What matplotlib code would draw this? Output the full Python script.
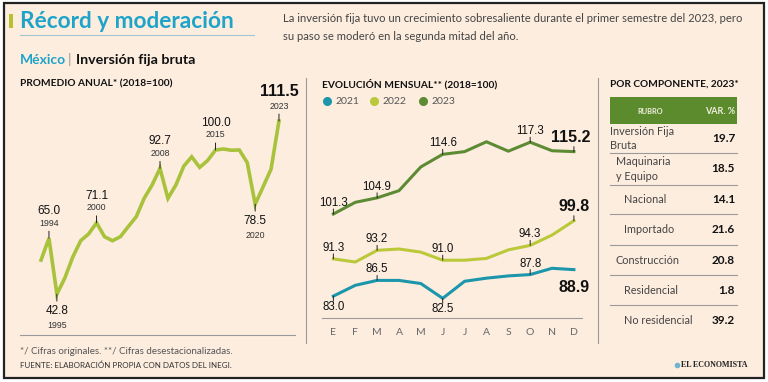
import matplotlib
matplotlib.use('Agg')
import matplotlib.pyplot as plt
from matplotlib.patches import Rectangle
from matplotlib.lines import Line2D

W, H = 768, 382

# ---------------- data ----------------
years = list(range(1993, 2024))
annual = [56.3, 65.0, 42.8, 49.2, 57.5, 64.0, 66.7, 71.1, 65.6, 64.0, 65.6, 69.6,
          73.5, 80.8, 86.1, 92.7, 80.8, 86.1, 93.6, 97.3, 93.1, 95.8, 100.0, 100.4,
          99.9, 100.0, 95.0, 78.5, 85.4, 92.4, 111.5]

months = ['E', 'F', 'M', 'A', 'M', 'J', 'J', 'A', 'S', 'O', 'N', 'D']
m2021 = [83.0, 85.4, 86.5, 86.5, 85.8, 82.5, 86.3, 87.0, 87.5, 87.8, 89.2, 88.9]
m2022 = [91.3, 90.6, 93.2, 93.5, 92.8, 91.0, 91.0, 91.4, 93.3, 94.3, 96.6, 99.8]
m2023 = [101.3, 103.9, 104.9, 106.5, 111.8, 114.6, 115.2, 117.4, 115.3, 117.3, 115.4, 115.2]
series_labels = ['2021', '2022', '2023']

rubros = ['Inversión Fija\nBruta', 'Maquinaria\ny Equipo', 'Nacional', 'Importado',
          'Construcción', 'Residencial', 'No residencial']
variaciones = [19.7, 18.5, 14.1, 21.6, 20.8, 1.8, 39.2]

# ---------------- style ----------------
BG = '#fdeddf'
TEAL = '#1ea3c9'
C_ANN = '#a9c23c'
C21 = '#1b96aa'
C22 = '#bac83a'
C23 = '#5d8b34'
HEAD = '#5c8b2e'
GRAY = '#9a9a9a'
TXT = '#333333'
NUM = ['Liberation Sans', 'DejaVu Sans']
SANS = ['Lato', 'DejaVu Sans']

fig = plt.figure(figsize=(W / 100, H / 100), dpi=100, facecolor='white')


def fx(x):
    return x / W


def fy(y):
    return 1 - y / H


def ftext(x, y, s, **kw):
    kw.setdefault('family', SANS)
    kw.setdefault('color', TXT)
    return fig.text(fx(x), fy(y), s, **kw)


def hline(x0, x1, y, color=GRAY, lw=0.8):
    fig.add_artist(Line2D([fx(x0), fx(x1)], [fy(y), fy(y)], color=color, lw=lw,
                          transform=fig.transFigure))


def vline(x, y0, y1, color=GRAY, lw=0.8):
    fig.add_artist(Line2D([fx(x), fx(x)], [fy(y0), fy(y1)], color=color, lw=lw,
                          transform=fig.transFigure))


def add_axes_px(x0, y0, x1, y1):
    ax = fig.add_axes([fx(x0), fy(y1), (x1 - x0) / W, (y1 - y0) / H])
    ax.set_facecolor('none')
    return ax


# background & border
fig.add_artist(Rectangle((fx(4), fy(378)), (760) / W, (375) / H, transform=fig.transFigure,
                         facecolor=BG, edgecolor='#222222', lw=1.6, zorder=0))

# title block
fig.add_artist(Rectangle((fx(9), fy(28)), 4 / W, 14 / H, transform=fig.transFigure,
                         facecolor='#b5c22e', edgecolor='none'))
ftext(20, 22, 'Récord y moderación', fontsize=16.3, fontweight='bold', color=TEAL,
      va='center', ha='left')
hline(20, 254, 35, color='#9fc6cf', lw=0.8)
ftext(283, 19, 'La inversión fija tuvo un crecimiento sobresaliente durante el primer semestre del 2023, pero',
      fontsize=8.1, va='center', color='#444444')
ftext(283, 36, 'su paso se moderó en la segunda mitad del año.',
      fontsize=8.1, va='center', color='#444444')
ftext(20, 60, 'México', fontsize=10, fontweight='bold', color=TEAL, va='center')
ftext(68, 60, '|', fontsize=10, color=GRAY, va='center')
ftext(76, 60, 'Inversión fija bruta', fontsize=10.3, fontweight='bold', color='#111111', va='center')

# section separators
vline(306, 78, 343)
vline(598, 78, 343)

# ---------------- left: annual ----------------
ftext(20, 84, 'PROMEDIO ANUAL* (2018=100)', fontsize=7.3, fontweight='bold', va='center',
      color='#111111')
axL = add_axes_px(20, 90, 295, 335)
axL.plot(years, annual, color=C_ANN, lw=2.6, solid_joinstyle='miter', zorder=3)
axL.set_xlim(1990.35, 2025.02)
axL.set_ylim(26.6, 123.8)
for s in ['top', 'right', 'left']:
    axL.spines[s].set_visible(False)
axL.spines['bottom'].set_color(GRAY)
axL.spines['bottom'].set_linewidth(0.8)
axL.set_xticks([])
axL.set_yticks([])


def ann_year(ax, yr, val, up=True, big=False):
    sgn = 1 if up else -1
    ax.annotate('', xy=(yr, val), xytext=(0, 7 * sgn), textcoords='offset pixels',
                arrowprops=dict(arrowstyle='-', color='#222222', lw=0.7, shrinkA=0, shrinkB=0))
    if up:
        ax.annotate(str(yr), xy=(yr, val), xytext=(0, 15), textcoords='offset pixels',
                    ha='center', va='center', fontsize=6.3, family=NUM, color=TXT)
        ax.annotate(f'{val:.1f}', xy=(yr, val), xytext=(0, 30 if big else 27),
                    textcoords='offset pixels', ha='center', va='center',
                    fontsize=11.5 if big else 8.5, family=NUM,
                    fontweight='bold' if big else 'normal', color='#111111')
    else:
        ax.annotate(f'{val:.1f}', xy=(yr, val), xytext=(0, -17), textcoords='offset pixels',
                    ha='center', va='center', fontsize=8.5, family=NUM, color='#111111')
        ax.annotate(str(yr), xy=(yr, val), xytext=(0, -31), textcoords='offset pixels',
                    ha='center', va='center', fontsize=6.3, family=NUM, color=TXT)


ann_year(axL, 1994, annual[years.index(1994)])
ann_year(axL, 1995, annual[years.index(1995)], up=False)
ann_year(axL, 2000, annual[years.index(2000)])
ann_year(axL, 2008, annual[years.index(2008)])
ann_year(axL, 2015, annual[years.index(2015)])
ann_year(axL, 2020, annual[years.index(2020)], up=False)
ann_year(axL, 2023, annual[years.index(2023)], big=True)

# ---------------- middle: monthly ----------------
ftext(322, 84, 'EVOLUCIÓN MENSUAL** (2018=100)', fontsize=7.3, fontweight='bold', va='center',
      color='#111111')
for xd, c, lab in zip([327, 374, 423], [C21, C22, C23], series_labels):
    fig.add_artist(Line2D([fx(xd)], [fy(101)], marker='o', ms=5.5, color=c, lw=0,
                          transform=fig.transFigure))
    ftext(xd + 8, 101, lab, fontsize=7.5, va='center', color='#555555')

axM = add_axes_px(322, 110, 582, 318)
xm = list(range(12))
axM.plot(xm, m2021, color=C21, lw=2.2, zorder=3)
axM.plot(xm, m2022, color=C22, lw=2.2, zorder=3)
axM.plot(xm, m2023, color=C23, lw=2.2, zorder=3)
axM.set_xlim(-0.52, 11.37)
axM.set_ylim(78.12, 124.48)
for s in ['top', 'right', 'left']:
    axM.spines[s].set_visible(False)
axM.spines['bottom'].set_color(GRAY)
axM.spines['bottom'].set_linewidth(0.8)
axM.set_yticks([])
axM.set_xticks(xm)
axM.set_xticklabels(months, family=SANS, fontsize=7.5, color='#666666')
axM.tick_params(axis='x', length=0, pad=7)


def ann_m(ax, i, vals, up=True, big=False, dx=0):
    v = vals[i]
    sgn = 1 if up else -1
    if not big or up:
        ax.annotate('', xy=(i, v), xytext=(0, 5 * sgn), textcoords='offset pixels',
                    arrowprops=dict(arrowstyle='-', color='#222222', lw=0.7,
                                    shrinkA=0, shrinkB=0))
    if big:
        off = 14 if up else -18
        ax.annotate(f'{v:.1f}', xy=(i, v), xytext=(dx, off), textcoords='offset pixels',
                    ha='center', va='center', fontsize=11.5, fontweight='bold', family=NUM,
                    color='#111111')
    else:
        ax.annotate(f'{v:.1f}', xy=(i, v), xytext=(0, 11 * sgn), textcoords='offset pixels',
                    ha='center', va='center', fontsize=8.3, family=NUM, color='#111111')


ann_m(axM, 0, m2023)
ann_m(axM, 2, m2023)
ann_m(axM, 5, m2023)
ann_m(axM, 9, m2023)
ann_m(axM, 11, m2023, big=True, dx=-3)
ann_m(axM, 0, m2022)
ann_m(axM, 2, m2022)
ann_m(axM, 5, m2022)
ann_m(axM, 9, m2022)
ann_m(axM, 11, m2022, big=True)
ann_m(axM, 0, m2021, up=False)
ann_m(axM, 2, m2021)
ann_m(axM, 5, m2021, up=False)
ann_m(axM, 9, m2021)
ann_m(axM, 11, m2021, up=False, big=True)

# ---------------- right: table ----------------
ftext(610, 84, 'POR COMPONENTE, 2023*', fontsize=7.3, fontweight='bold', va='center',
      color='#111111')
fig.add_artist(Rectangle((fx(610), fy(124)), 127 / W, 27 / H, transform=fig.transFigure,
                         facecolor=HEAD, edgecolor='none'))
ftext(650, 111, 'RUBRO', fontsize=5.3, fontweight='bold', color='#f3efe0', va='center',
      ha='center')
ftext(735, 111, 'VAR. %', fontsize=6.5, fontweight='bold', color='#f3efe0', va='center',
      ha='right')
row_edges = [124, 153, 185, 214, 245, 275, 305, 335]
indent = [0, 6, 14, 14, 6, 14, 14]
for k, (rb, vv) in enumerate(zip(rubros, variaciones)):
    yc = (row_edges[k] + row_edges[k + 1]) / 2
    ftext(610 + indent[k], yc, rb, fontsize=7.8, va='center', ha='left',
          color='#444444', linespacing=1.4)
    ftext(735, yc, f'{vv:.1f}', fontsize=8.5, va='center', ha='right',
          fontweight='bold', color='#111111')
    if k < len(rubros) - 1:
        hline(610, 737, row_edges[k + 1], color=GRAY, lw=0.8)

# ---------------- footer ----------------
ftext(20, 351, '*/ Cifras originales. **/ Cifras desestacionalizadas.', fontsize=7,
      va='center', color='#555555')
ftext(20, 365, 'FUENTE: ELABORACIÓN PROPIA CON DATOS DEL INEGI.', fontsize=5.8,
      va='center', color='#333333')
fig.add_artist(Line2D([fx(677)], [fy(365)], marker='o', ms=3, color='#6fb3d2', lw=0,
                      transform=fig.transFigure))
ftext(681, 365, 'EL ECONOMISTA', fontsize=5.8, va='center', ha='left',
      family=['Liberation Serif', 'DejaVu Serif'], fontweight='bold', color='#222222')

fig.savefig('out.png', dpi=100, facecolor='white')
